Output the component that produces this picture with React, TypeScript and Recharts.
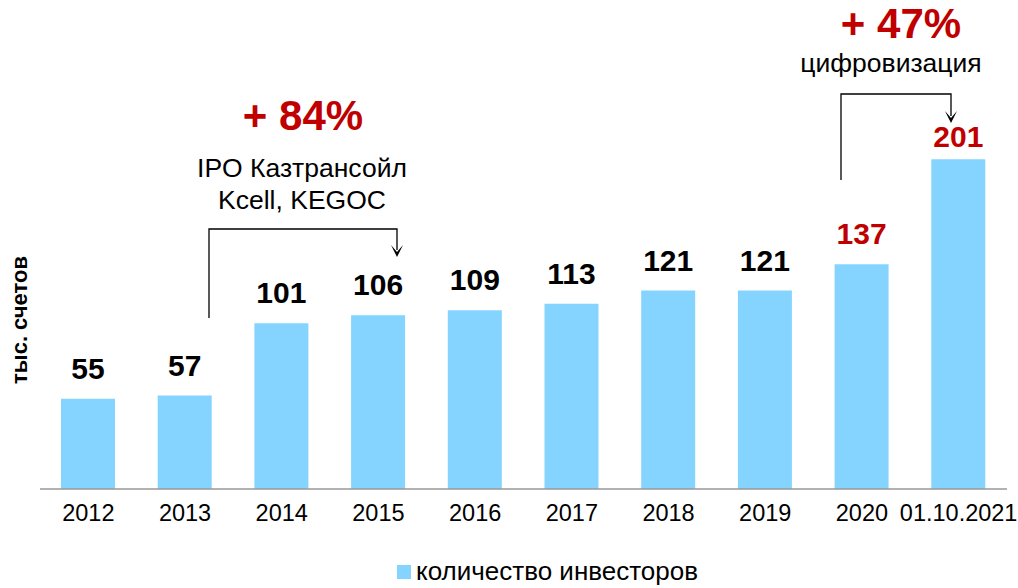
import { Bar, BarChart, LabelList, XAxis, YAxis } from "recharts";

const categories = ["2012", "2013", "2014", "2015", "2016", "2017", "2018", "2019", "2020", "01.10.2021"];
const investors = [55, 57, 101, 106, 109, 113, 121, 121, 137, 201];
const seriesName = "количество инвесторов";
const axisTitle = "тыс. счетов";
const ipoGrowth = "+ 84%";
const ipoNote = ["IPO Казтрансойл", "Kcell, KEGOC"];
const digitalGrowth = "+ 47%";
const digitalNote = "цифровизация";

const data = categories.map((name, i) => ({ name, value: investors[i] }));

const W = 1018;
const H = 588;
const FONT = "'Liberation Sans', Arial, sans-serif";
const BAR = "#85D4FF";
const RED = "#C00000";
const redFrom = 8;

function ValueLabel(props: any) {
  const { x, y, width, value, index } = props;
  const last = index === data.length - 1;
  return (
    <text
      x={Number(x) + Number(width) / 2}
      y={Number(y) - (last ? 12 : 20)}
      textAnchor="middle"
      fontFamily={FONT}
      fontSize={30}
      fontWeight="bold"
      fill={index >= redFrom ? RED : "#000"}
    >
      {value}
    </text>
  );
}

function Tick(props: any) {
  const { x, y, payload } = props;
  return (
    <text x={x} y={y} dy={16} textAnchor="middle" fontFamily={FONT} fontSize={23.5} fill="#000">
      {payload.value}
    </text>
  );
}

function Arrow({ x, tip }: { x: number; tip: number }) {
  return <polygon points={`${x - 6},${tip - 12} ${x},${tip - 5} ${x + 6},${tip - 12} ${x},${tip}`} fill="#000" />;
}

export default function App() {
  return (
    <div style={{ position: "absolute", left: 0, top: 0, width: W, height: H, background: "#fff" }}>
      <BarChart width={W} height={H} data={data} margin={{ top: 79, right: 11, bottom: 69, left: 40 }}>
        <XAxis
          dataKey="name"
          height={30}
          tickLine={false}
          tickMargin={10}
          axisLine={{ stroke: "#999", strokeWidth: 1.5 }}
          tick={<Tick />}
          interval={0}
        />
        <YAxis hide domain={[0, 250]} />
        <Bar dataKey="value" name={seriesName} fill={BAR} barSize={54} isAnimationActive={false}>
          <LabelList dataKey="value" content={<ValueLabel />} />
        </Bar>
      </BarChart>
      <svg width={W} height={H} style={{ position: "absolute", left: 0, top: 0, pointerEvents: "none" }}>
        <text
          x={27}
          y={320}
          transform="rotate(-90 27 320)"
          textAnchor="middle"
          fontFamily={FONT}
          fontSize={22}
          fontWeight="bold"
        >
          {axisTitle}
        </text>

        <text x={303} y={130} textAnchor="middle" fontFamily={FONT} fontSize={42} fontWeight="bold" fill={RED}>
          {ipoGrowth}
        </text>
        <text x={302} y={177} textAnchor="middle" fontFamily={FONT} fontSize={26.5}>
          {ipoNote[0]}
        </text>
        <text x={302} y={209} textAnchor="middle" fontFamily={FONT} fontSize={26.5}>
          {ipoNote[1]}
        </text>
        <polyline points="209,318 209,229 397,229 397,250" fill="none" stroke="#000" strokeWidth={1.3} />
        <Arrow x={397} tip={257} />

        <text x={901} y={38} textAnchor="middle" fontFamily={FONT} fontSize={42} fontWeight="bold" fill={RED}>
          {digitalGrowth}
        </text>
        <text x={891} y={72} textAnchor="middle" fontFamily={FONT} fontSize={26.5}>
          {digitalNote}
        </text>
        <polyline points="841,180 841,94 951,94 951,116" fill="none" stroke="#000" strokeWidth={1.3} />
        <Arrow x={951} tip={123} />

        <rect x={397} y={565} width={14} height={14} fill={BAR} />
        <text x={416} y={580} fontFamily={FONT} fontSize={26}>
          {seriesName}
        </text>
      </svg>
    </div>
  );
}
